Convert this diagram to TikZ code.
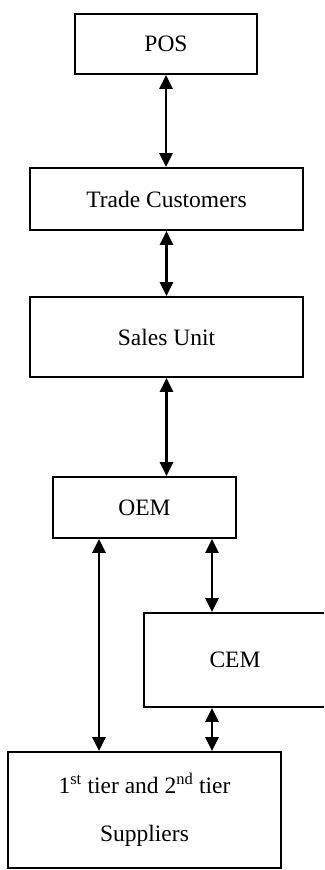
\documentclass[tikz,border=0pt]{standalone}
\usepackage{fontspec}
\setmainfont{Liberation Serif}
\usetikzlibrary{arrows.meta, positioning}

\tikzset{
  box/.style={draw, line width=1.8pt, inner sep=0pt, align=center,
    font=\fontsize{23.5}{28}\selectfont},
  link/.style={{Triangle[width=13pt,length=14pt]}-{Triangle[width=13pt,length=14pt]},
    line width=2.4pt}
}

\begin{document}
\begin{tikzpicture}[x=1pt, y=-1pt]
\useasboundingbox (0,0) rectangle (324,870);
\clip (0,0) rectangle (324,870);

\node[box, minimum width=182pt, minimum height=60pt] (pos) at (166,44) {POS};
\node[box, minimum width=273pt, minimum height=62pt] (trade) at (166.5,199) {Trade Customers};
\node[box, minimum width=273pt, minimum height=80pt] (sales) at (166.5,337) {Sales Unit};
\node[box, minimum width=183pt, minimum height=61pt] (oem) at (144.5,507.5) {OEM};
\node[box, minimum width=182pt, minimum height=94pt] (cem) at (235,660) {CEM};
\node[box, minimum width=273pt, minimum height=116pt,
  font=\fontsize{23.5}{48}\selectfont] (sup) at (144.5,810)
  {1\textsuperscript{st} tier and 2\textsuperscript{nd} tier\\Suppliers};

\coordinate (oemL) at ([xshift=-45.5pt]oem.south);
\coordinate (oemR) at ([xshift=67.5pt]oem.south);

\draw[link] (pos.south) -- (pos.south |- trade.north);
\draw[link] (trade.south) -- (trade.south |- sales.north);
\draw[link] (sales.south) -- (sales.south |- oem.north);
\draw[link] (oemL) -- (oemL |- sup.north);
\draw[link] (oemR) -- (oemR |- cem.north);
\draw[link] (cem.south -| oemR) -- (oemR |- sup.north);
\end{tikzpicture}
\end{document}
